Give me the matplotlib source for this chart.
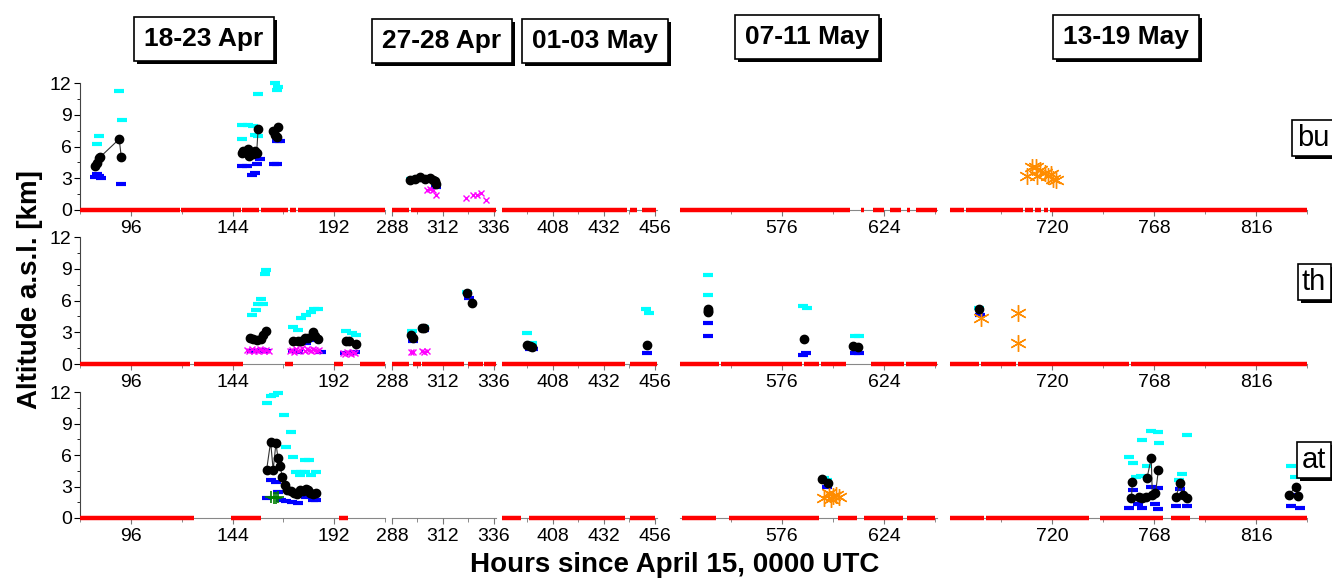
import numpy as np
import matplotlib.pyplot as plt
from matplotlib.ticker import MultipleLocator
from matplotlib.patches import Rectangle

plt.rcParams['font.family'] = ['Liberation Sans', 'DejaVu Sans']

nan = np.nan

# broken x axis: five date windows (hours since April 15, 0000 UTC)
panel_hours = [(72, 216), (288, 337), (384, 457), (528, 649), (672, 840)]
panel_dates = ['18-23 Apr', '27-28 Apr', '01-03 May', '07-11 May', '13-19 May']
major_ticks = [[96, 144, 192], [288, 312, 336], [408, 432, 456], [576, 624], [720, 768, 816]]
minor_ticks = [[72, 120, 168, 216], [300, 324], [396, 420, 444], [552, 600, 648], [696, 744, 792, 840]]
site_names = ['bu', 'th', 'at']

# ---- bu ----
bu_red = [(72, 119), (119.7, 148), (148.7, 156.5), (157.5, 170), (171, 174), (175, 216),
          (288, 296), (297, 337),
          (384, 443), (444.5, 447.5), (450, 456.5),
          (528, 608), (613, 614.5), (619, 624), (627, 632), (635, 636.5), (639, 649),
          (672, 678.5), (679.5, 706.5), (707.5, 711), (712, 715), (716, 718), (719, 840)]
bu_blk_h = [79, 79.8, 81, 81.5, 90.5, 91.5, nan, 148.3, 149, 151.4, 151.9, 153.8, 154.6, 155.4, 156.1, nan,
            162.9, 164, 164.8, 165.5, nan, 296.6, 298.7, 301.3, 303.7, 305.7, 307.3, 308.4, 308.9]
bu_blk_km = [4.2, 4.4, 4.9, 5.0, 6.7, 5.0, nan, 5.4, 5.6, 5.8, 5.1, 5.3, 5.6, 5.4, 7.7, nan,
             7.45, 7.1, 6.9, 7.8, nan, 2.86, 2.9, 3.1, 2.9, 3.0, 2.8, 2.7, 2.5]
bu_cyan_h = [80, 81, 90.5, 91.8, 148.3, 148.7, 151.4, 153.8, 154.6, 156.1, 156.1, 164, 164.8, 165.5,
             297, 300, 303, 306, 308]
bu_cyan_km = [6.2, 7.0, 11.2, 8.5, 8.0, 6.7, 8.0, 7.9, 7.1, 7.0, 10.95, 12.0, 11.3, 11.6,
              2.9, 3.0, 3.0, 2.9, 2.8]
bu_blue_h = [79, 80, 81, 82, 91.5, 148.3, 150.7, 153, 154.6, 155.4, 157, 163.4, 164.8, 165.2, 166.3, 297.4, 308.9]
bu_blue_km = [3.1, 3.4, 3.2, 3.0, 2.45, 4.2, 4.2, 3.3, 3.5, 4.3, 4.85, 4.3, 4.35, 6.5, 6.5, 2.7, 2.2]
bu_mag_h = [304.5, 306, 307.5, 308.5, 322.8, 326, 328.1, 329.7, 332.3]
bu_mag_km = [1.85, 2.0, 1.9, 1.45, 1.1, 1.4, 1.4, 1.6, 0.95]
bu_org_h = [708, 710.8, 712.7, 713, 714.2, 716.5, 718.1, 719.7, 720.5, 721.8]
bu_org_km = [3.2, 4.1, 4.1, 3.2, 3.8, 3.5, 3.2, 3.4, 2.9, 2.8]
bu_grn_h = []
bu_grn_km = []

# ---- th ----
th_red = [(72, 124), (126, 149), (169, 172.5), (192, 196), (204, 216),
          (288, 296), (298, 301.5), (302, 322), (324, 331), (331.5, 337),
          (384, 442), (444.5, 457),
          (528, 546.5), (547.5, 585.5), (586.5, 593.5), (594.5, 606), (618, 633.5), (634.5, 649),
          (672, 685.5), (686.5, 703), (704, 756), (757, 840)]
th_blk_h = [152.2, 153.8, 155.4, 157.3, 158.5, 160, nan, 172.6, 174.9, 176.5, 178, 179.6, 182.1, 182.9, 184.5, nan,
            197.8, 199.1, 202.5, nan, 296.9, 298.1, nan, 302.1, 303, nan, 323.2, 325.6, nan,
            395.6, 397, 398, nan, 452.2, nan, 541, 541.2, 541.4, nan, 586.3, nan, 609.5, 611.7, nan, 685.8]
th_blk_km = [2.5, 2.4, 2.3, 2.4, 2.7, 3.1, nan, 2.2, 2.2, 2.2, 2.5, 2.5, 3.0, 2.6, 2.4, nan,
             2.2, 2.2, 1.9, nan, 2.7, 2.5, nan, 3.4, 3.4, nan, 6.7, 5.8, nan,
             1.8, 1.7, 1.6, nan, 1.8, nan, 5.2, 5.0, 4.9, nan, 2.35, nan, 1.7, 1.6, nan, 5.15]
th_cyan_h = [153, 155, 156, 157.4, 158.2, 159.2, 160, 172.6, 174.9, 176.5, 178.8, 181.2, 182.6, 184.2,
             197.8, 200.2, 202.5, 297.3, 303, 323.4, 396, 398, 452, 453, 541, 541.3, 585.7, 587.6,
             610.5, 612.5, 685.8]
th_cyan_km = [4.6, 5.1, 5.7, 6.1, 5.7, 8.5, 8.9, 3.5, 3.2, 4.3, 4.6, 4.9, 5.2, 5.2,
              3.1, 2.9, 2.7, 3.1, 3.5, 6.8, 2.9, 1.95, 5.15, 4.85, 8.4, 6.5, 5.5, 5.3,
              2.6, 2.6, 5.3]
th_blue_h = [153, 155, 158, 160, 172.6, 175, 178.6, 183, 186, 197, 200, 202, 298, 303, 324.5,
             397, 398.5, 452.5, 541.3, 541, 586, 587.5, 610.5, 612.5, 686]
th_blue_km = [1.25, 1.2, 1.3, 1.2, 1.2, 1.1, 2.0, 2.3, 1.1, 1.0, 1.0, 1.1, 2.2, 3.2, 6.2,
              1.4, 1.4, 1.0, 3.9, 2.6, 0.85, 1.0, 1.07, 1.0, 4.6]
th_mag_h = [151, 152, 153, 154, 155, 156, 157, 158, 159, 160, 161,
            171, 172, 173, 174, 175, 176, 177, 178, 179, 180, 181, 182, 183, 184, 185,
            196, 197, 198, 199, 200, 201, 202, 297, 298, 302, 303, 304.5]
th_mag_km = [1.3, 1.2, 1.4, 1.2, 1.3, 1.2, 1.4, 1.3, 1.2, 1.3, 1.2,
             1.2, 1.3, 1.1, 1.4, 1.2, 1.3, 1.5, 1.2, 1.4, 1.3, 1.2, 1.4, 1.3, 1.2, 1.3,
             1.0, 0.9, 1.1, 1.0, 0.9, 1.1, 1.0, 1.15, 1.1, 1.2, 1.15, 1.2]
th_org_h = [686.7, 703.9, 703.9]
th_org_km = [4.3, 4.85, 2.0]
th_grn_h = []
th_grn_km = []

# ---- at ----
at_red = [(72, 126), (143.5, 157.5), (194.5, 198.5),
          (384, 393), (396.5, 442), (444.5, 456),
          (529, 545), (551, 593.5), (602.5, 611.5), (614.5, 633), (635, 648),
          (672, 688), (689, 737.5), (742.5, 772), (776, 785), (789, 840)]
at_blk_h = [160.1, 162, 163.2, 164.5, 165.5, 166.3, 167.6, 168.7, 169.8, 171.4, 173, 174.5, 175.8, 177.4,
            178.6, 179.7, 180.8, 182, 183.2, nan, 595, 597.6, nan, 757.4, 757.8, nan, 761, 762.5, 764, nan,
            764.7, 766.7, 767.2, nan, 768.7, 770.1, nan, 778.3, 780.3, 781.5, 783.3, nan, 831.6, 834.7, 835.7]
at_blk_km = [4.57, 7.27, 4.57, 7.1, 5.7, 5.0, 3.9, 3.1, 2.7, 2.6, 2.4, 2.25, 2.7, 2.6,
             2.8, 2.7, 2.4, 2.3, 2.4, nan, 3.7, 3.35, nan, 1.9, 3.45, nan, 2.0, 1.9, 2.0, nan,
             3.8, 5.7, 2.2, nan, 2.35, 4.6, nan, 2.0, 3.3, 2.2, 1.9, nan, 2.2, 3.0, 2.1]
at_cyan_h = [160.1, 162.3, 163.7, 165.3, 168.3, 171.4, 169.2, 172.4, 174, 176.3, 178.3, 180.2, 178.3, 175.8,
             181, 183.2, 595.6, 597, 756.3, 758.3, 759.3, 762.3, 766.7, 769.7, 770.3, 764.7, 761.7,
             779.6, 781, 783.7, 832.6, 834.5]
at_cyan_km = [11.0, 11.6, 11.7, 11.9, 9.8, 8.2, 6.8, 5.8, 4.4, 4.4, 5.5, 5.5, 4.4, 4.1,
              4.1, 4.4, 3.8, 3.6, 5.8, 5.2, 3.9, 7.4, 8.3, 8.2, 7.1, 5.0, 4.0,
              3.6, 4.2, 7.9, 5.0, 3.9]
at_blue_h = [160.1, 162.3, 164.5, 165.5, 167, 169.4, 172.3, 175, 176.3, 178.7, 181, 182, 183.4, 597,
             756.3, 758, 760.5, 762.5, 766.7, 769.7, 768.3, 769.9, 778.3, 780.3, 783.3, 832.6, 836.7, 835.2]
at_blue_km = [1.9, 3.6, 3.45, 2.5, 1.75, 1.6, 1.5, 1.4, 2.2, 2.0, 2.3, 1.7, 1.7, 2.95,
              0.92, 2.7, 1.3, 0.92, 3.0, 2.9, 1.3, 0.9, 1.1, 2.8, 1.1, 1.1, 1.0, 2.2]
at_mag_h = []
at_mag_km = []
at_org_h = [596, 598, 600, 601.6, 603, 599]
at_org_km = [1.9, 2.4, 2.1, 2.2, 2.0, 1.8]
at_grn_h = [162.3, 163.4, 164.5, 165.3]
at_grn_km = [2.0, 1.95, 1.9, 2.0]

rows = [
    (bu_red, bu_blk_h, bu_blk_km, bu_cyan_h, bu_cyan_km, bu_blue_h, bu_blue_km,
     bu_mag_h, bu_mag_km, bu_org_h, bu_org_km, bu_grn_h, bu_grn_km),
    (th_red, th_blk_h, th_blk_km, th_cyan_h, th_cyan_km, th_blue_h, th_blue_km,
     th_mag_h, th_mag_km, th_org_h, th_org_km, th_grn_h, th_grn_km),
    (at_red, at_blk_h, at_blk_km, at_cyan_h, at_cyan_km, at_blue_h, at_blue_km,
     at_mag_h, at_mag_km, at_org_h, at_org_km, at_grn_h, at_grn_km),
]

# layout in pixels
W, H = 1332, 581
panel_px = [(80, 385), (392, 496), (502, 657), (680, 937), (950, 1307)]
row_px = [(83, 210), (237, 364), (392, 518)]  # y of 12 km, y of 0 km
ypad = 0.4

fig = plt.figure(figsize=(W / 100, H / 100), dpi=100)

for r, data in enumerate(rows):
    red, bh, bk, ch, ck, uh, uk, mh, mk, oh, ok, gh, gk = data
    y12, y0 = row_px[r]
    ppk = (y0 - y12) / 12.0
    top = y12 - ypad * ppk
    bot = y0 + ypad * ppk
    for c, (h0, h1) in enumerate(panel_hours):
        x0, x1 = panel_px[c]
        ax = fig.add_axes([x0 / W, 1 - bot / H, (x1 - x0) / W, (bot - top) / H])
        ax.set_xlim(h0, h1)
        ax.set_ylim(-ypad, 12 + ypad)
        ax.patch.set_alpha(0)

        ax.hlines([0] * len(red), [s[0] for s in red], [s[1] for s in red],
                  color='red', lw=3.2, zorder=3)
        ax.plot(ch, ck, ls='none', marker='_', ms=7, mew=3, color='cyan', zorder=3)
        ax.plot(uh, uk, ls='none', marker='_', ms=7, mew=3, color='blue', zorder=3)
        ax.plot(mh, mk, ls='none', marker='x', ms=5, mew=1, color='magenta', zorder=3)
        ax.plot(gh, gk, ls='none', marker='+', ms=8, mew=1.2, color='green', zorder=3)
        ax.plot(oh, ok, ls='none', marker=(6, 2, 0), ms=12, mew=1, color='darkorange', zorder=4)
        ax.plot(bh, bk, '-', color='#333333', lw=0.8, marker='o', ms=6,
                mfc='black', mec='black', zorder=5)

        for s in ['top', 'right']:
            ax.spines[s].set_visible(False)
        ax.spines['bottom'].set_position(('data', 0))
        ax.spines['bottom'].set_color('#888888')
        ax.spines['bottom'].set_zorder(1)
        ax.set_xticks(major_ticks[c])
        ax.set_xticks(minor_ticks[c], minor=True)
        ax.tick_params(axis='x', which='major', labelsize=14, length=4, color='#777777', pad=3)
        ax.tick_params(axis='x', which='minor', length=3, color='#777777')
        if c == 0:
            ax.spines['left'].set_bounds(0, 12)
            ax.spines['left'].set_color('#444444')
            ax.set_yticks([0, 3, 6, 9, 12])
            ax.yaxis.set_minor_locator(MultipleLocator(1.5))
            ax.tick_params(axis='y', which='major', labelsize=14, length=4, pad=2)
            ax.tick_params(axis='y', which='minor', length=2)
        else:
            ax.spines['left'].set_visible(False)
            ax.set_yticks([])

# date boxes and site labels, boxed
boxed = []
date_px = [(204, 39), (442, 41), (595, 41), (807, 37), (1126, 37)]
for lab, (cx, cy) in zip(panel_dates, date_px):
    t = fig.text(cx / W, 1 - cy / H, lab, ha='center', va='center', fontsize=19, fontweight='bold',
                 bbox=dict(boxstyle='square,pad=0.38', fc='white', ec='black', lw=1.2), zorder=10)
    boxed.append(t)

site_px = [(1313, 138), (1314, 282), (1314, 460)]
for lab, (cx, cy) in zip(site_names, site_px):
    t = fig.text(cx / W, 1 - cy / H, lab, ha='center', va='center', fontsize=21,
                 bbox=dict(boxstyle='square,pad=0.15', fc='white', ec='black', lw=1.2), zorder=10)
    boxed.append(t)

# drop shadows behind the boxes
fig.canvas.draw()
inv = fig.transFigure.inverted()
for t in boxed:
    bb = t.get_bbox_patch().get_window_extent()
    (fx0, fy0), (fx1, fy1) = inv.transform([(bb.x0 + 3, bb.y0 - 3), (bb.x1 + 3, bb.y1 - 3)])
    fig.add_artist(Rectangle((fx0, fy0), fx1 - fx0, fy1 - fy0, transform=fig.transFigure,
                             fc='black', ec='none', zorder=9))

fig.text(30 / W, 1 - 290 / H, 'Altitude a.s.l. [km]', rotation=90, ha='center', va='center',
         fontsize=20, fontweight='bold')
fig.text(675 / W, 1 - 565 / H, 'Hours since April 15, 0000 UTC', ha='center', va='center',
         fontsize=20, fontweight='bold')

fig.savefig('out.png', dpi=100)
